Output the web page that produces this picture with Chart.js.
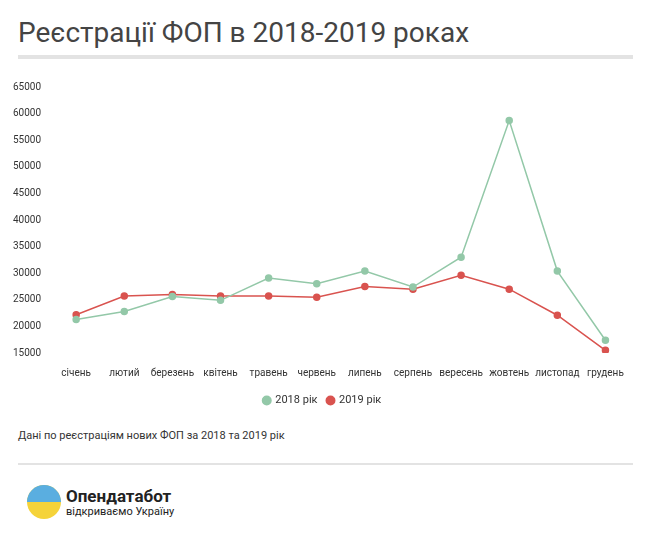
<!DOCTYPE html><html><head><meta charset="utf-8">
<script src="https://cdn.jsdelivr.net/npm/chart.js"></script>
<style>
body{margin:0;background:#fff;font-family:Roboto,sans-serif;width:650px;height:537px;position:relative;overflow:hidden}
#t{position:absolute;left:18px;top:16px;font-size:28px;color:#444;font-weight:400}
.hr{position:absolute;left:18px;width:615px;background:#e3e3e3}
#c{position:absolute;left:10px;top:78px;width:625px;height:338px}
#n{position:absolute;left:18px;top:429px;font-size:11px;color:#333}
#logo{position:absolute;left:26px;top:484px}
</style></head><body>
<div id="t">Реєстрації ФОП в 2018-2019 роках</div>
<div class="hr" style="top:55px;height:4px"></div>
<div id="c"><canvas id="ch"></canvas></div>
<div id="n">Дані по реєстраціям нових ФОП за 2018 та 2019 рік</div>
<div class="hr" style="top:463px;height:2px"></div>
<div id="logo">
<svg width="36" height="36" style="position:absolute;left:0;top:0"><circle cx="18" cy="18" r="17" fill="#f5d33a"/><path d="M1 18a17 17 0 0 1 34 0z" fill="#5aaee0"/></svg>
<div style="position:absolute;left:40px;top:2px;font-size:17px;font-weight:700;color:#222;white-space:nowrap">Опендатабот</div>
<div style="position:absolute;left:40px;top:21px;font-size:11px;color:#222;white-space:nowrap">відкриваємо Україну</div>
</div>
<script>
const months=["січень","лютий","березень","квітень","травень","червень","липень","серпень","вересень","жовтень","листопад","грудень"];
const y2018=[21300,22800,25600,24900,29100,28000,30400,27400,33000,58700,30400,17400];
const y2019=[22200,25700,26000,25700,25700,25500,27500,27000,29600,27000,22100,15500];
new Chart(document.getElementById('ch'),{type:'line',data:{labels:months,datasets:[
{label:'2018 рік',data:y2018,borderColor:'#93c8a8',backgroundColor:'#93c8a8',pointRadius:3,borderWidth:1.5,tension:0},
{label:'2019 рік',data:y2019,borderColor:'#d9534f',backgroundColor:'#d9534f',pointRadius:3,borderWidth:1.5,tension:0}]},
options:{responsive:true,maintainAspectRatio:false,animation:false,
plugins:{legend:{position:'bottom',labels:{usePointStyle:true,pointStyle:'circle',boxWidth:6,boxHeight:6,padding:10,color:'#333',font:{family:'Roboto',size:11}}}},
scales:{x:{offset:true,grid:{display:false},border:{display:false},ticks:{maxRotation:0,autoSkip:false,padding:6,color:'#333',font:{family:'Roboto',size:10}}},
y:{min:15000,max:65000,ticks:{stepSize:5000,callback:v=>String(v),color:'#333',font:{family:'Roboto',size:10}},grid:{display:false},border:{display:false}}}}});
</script></body></html>
